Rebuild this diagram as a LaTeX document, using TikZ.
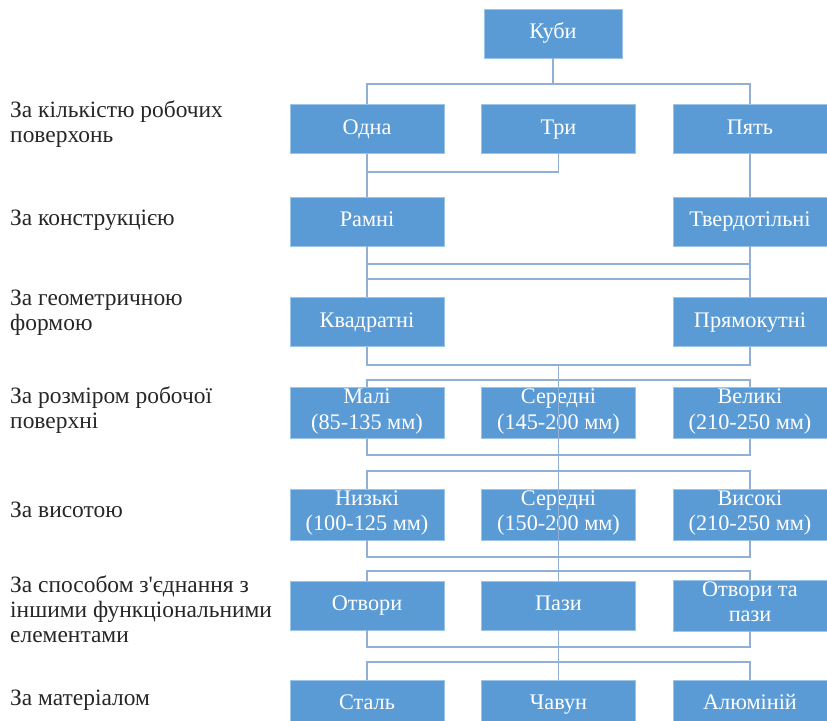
\documentclass[tikz,border=0pt]{standalone}
\usepackage{fontspec}
\setmainfont{Liberation Serif}
\usepackage{tikz}
\definecolor{boxblue}{RGB}{91,155,213}
\definecolor{linkblue}{RGB}{146,176,212}
\tikzset{
  cube/.style={rectangle, fill=boxblue, draw=boxblue!60!white, line width=0.4pt, text=white,
    minimum width=4.62cm, minimum height=1.47cm, align=center, inner sep=1pt,
    font=\fontsize{19}{22}\selectfont, execute at begin node=\strut},
  crit/.style={anchor=west, align=left, inner sep=0pt, text=black!85,
    font=\fontsize{20}{21.5}\selectfont},
  link/.style={draw=linkblue, line width=0.9pt}
}
\begin{document}
\begin{tikzpicture}[x=0.03cm, y=-0.03cm]
  \useasboundingbox (0,0) rectangle (827,721);
  % Nodes
  \node[cube, minimum width=4.14cm] (kuby) at (553,33.5) {Куби};
  \node[cube] (odna) at (367,129) {Одна};
  \node[cube] (try) at (558.5,129) {Три};
  \node[cube] (pyat) at (750,129) {Пять};
  \node[cube] (ramni) at (367,221.5) {Рамні};
  \node[cube] (tverd) at (750,221.5) {Твердотільні};
  \node[cube] (kvadr) at (367,322) {Квадратні};
  \node[cube] (pryam) at (750,322) {Прямокутні};
  \node[cube] (mali) at (367,413) {Малі\\(85-135 мм)};
  \node[cube] (seredA) at (558.5,413) {Середні\\(145-200 мм)};
  \node[cube] (velyki) at (750,413) {Великі\\(210-250 мм)};
  \node[cube] (nyzki) at (367,514.5) {Низькі\\(100-125 мм)};
  \node[cube] (seredB) at (558.5,514.5) {Середні\\(150-200 мм)};
  \node[cube] (vysoki) at (750,514.5) {Високі\\(210-250 мм)};
  \node[cube] (otvory) at (367,605.5) {Отвори};
  \node[cube] (pazy) at (558.5,605.5) {Пази};
  \node[cube] (otvpazy) at (750,605.5) {Отвори та\\пази};
  \node[cube] (stal) at (367,704.5) {Сталь};
  \node[cube] (chavun) at (558.5,704.5) {Чавун};
  \node[cube] (alum) at (750,704.5) {Алюміній};
  % Criteria
  \node[crit] (cnum) at (10,124.5) {За кількістю робочих\\поверхонь};
  \node[crit] (cconstr) at (10,220) {За конструкцією};
  \node[crit] (cgeom) at (10,312.5) {За геометричною\\формою};
  \node[crit] (csize) at (10,410.5) {За розміром робочої\\поверхні};
  \node[crit] (cheight) at (10,510) {За висотою};
  \node[crit] (cjoin) at (10,609) {За способом з\textquotesingle єднання з\\іншими функціональними\\елементами};
  \node[crit] (cmat) at (10,700) {За матеріалом};
  % Bus points
  \coordinate (b0) at (553,84);
  \coordinate (b1) at (367,172);
  \coordinate (b2a) at (367,264);
  \coordinate (b2b) at (367,279);
  \coordinate (b3a) at (558.5,365);
  \coordinate (b3b) at (558.5,380);
  \coordinate (b4a) at (558.5,455);
  \coordinate (b4b) at (558.5,471);
  \coordinate (b5a) at (558.5,557);
  \coordinate (b5b) at (558.5,571);
  \coordinate (b6a) at (558.5,647);
  \coordinate (b6b) at (558.5,662);
  % Edges
  \draw[link] (kuby) -- (b0);
  \draw[link] (odna.north) |- (b0) -| (pyat.north);
  \draw[link] (odna) -- (ramni);
  \draw[link] (try.south) |- (b1);
  \draw[link] (pyat) -- (tverd);
  \draw[link] (ramni) -- (kvadr);
  \draw[link] (tverd) -- (pryam);
  \draw[link] (b2a) -- (b2a -| tverd);
  \draw[link] (b2b) -- (b2b -| tverd);
  \draw[link] (kvadr.south) |- (b3a) -| (pryam.south);
  \draw[link] (mali.north) |- (b3b) -| (velyki.north);
  \draw[link] (b3a) -- (b5b);
  \draw[link] (mali.south) |- (b4a) -| (velyki.south);
  \draw[link] (nyzki.north) |- (b4b) -| (vysoki.north);
  \draw[link] (nyzki.south) |- (b5a) -| (vysoki.south);
  \draw[link] (otvory.north) |- (b5b) -| (otvpazy.north);
  \draw[link] (b5b) -- (pazy);
  \draw[link] (otvory.south) |- (b6a) -| (otvpazy.south);
  \draw[link] (stal.north) |- (b6b) -| (alum.north);
  \draw[link] (pazy) -- (chavun);
\end{tikzpicture}
\end{document}
